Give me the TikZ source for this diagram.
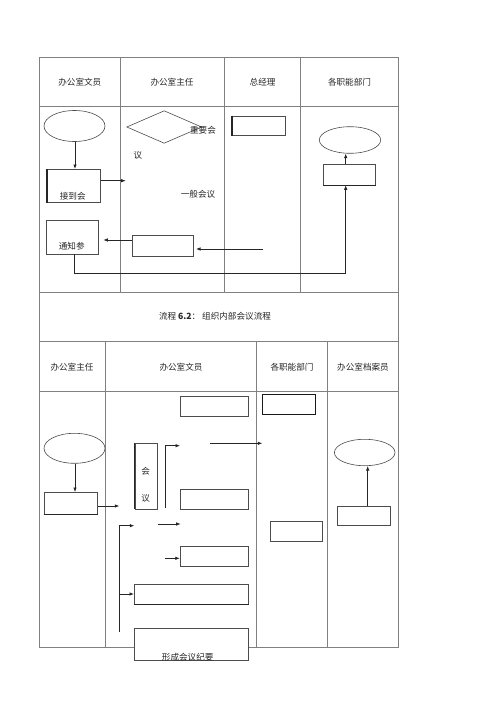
\documentclass[tikz,border=0pt]{standalone}
\usepackage{fontspec}
\newfontfamily\cjk{Noto Sans CJK SC}
\usetikzlibrary{arrows.meta,shapes.geometric}
\begin{document}
\begin{tikzpicture}[x=1pt,y=-1pt,
  grid/.style={draw=black!50,line width=0.5pt,dash pattern=on 0.5pt off 0.5pt},
  txt/.style={font=\cjk\fontsize{8.6}{10}\selectfont,text=black!85,inner sep=0pt},
  bx/.style={draw=black!70,line width=0.6pt,inner sep=0pt,rectangle},
  ell/.style={draw=black!70,line width=0.6pt,ellipse,inner sep=0pt},
  thk/.style={draw=black!85,line width=1.3pt},
  arr/.style={draw=black!85,line width=0.7pt,-{Latex[length=4.5pt,width=3.5pt]}},
  ln/.style={draw=black!85,line width=0.7pt}]
\useasboundingbox (0,0) rectangle (500,707);
% ---------- table 1 ----------
\draw[grid] (39.5,57) rectangle (398.3,292.7);
\draw[grid] (39.5,106) -- (398.3,106);
\draw[grid] (120,57) -- (120,292.7);
\draw[grid] (224.5,57) -- (224.5,292.7);
\draw[grid] (300.7,57) -- (300.7,292.7);
\node[txt] (h1) at (79.8,82) {办公室文员};
\node[txt] (h2) at (172,82) {办公室主任};
\node[txt] (h3) at (262.6,82) {总经理};
\node[txt] (h4) at (349.5,82) {各职能部门};
% caption row
\draw[grid] (39.5,292.7) rectangle (398.3,341.7);
\node[txt] (cap) at (215,316.7) {流程 \textbf{6.2}： 组织内部会议流程};
% ---------- table 2 ----------
\draw[grid] (39.5,341.7) rectangle (398.3,647.3);
\draw[grid] (39.5,391.7) -- (398.3,391.7);
\draw[grid] (105,341.7) -- (105,647.3);
\draw[grid] (256.7,341.7) -- (256.7,647.3);
\draw[grid] (327.7,341.7) -- (327.7,647.3);
\node[txt] (k1) at (72,367) {办公室主任};
\node[txt] (k2) at (181,367) {办公室文员};
\node[txt] (k3) at (292,367) {各职能部门};
\node[txt] (k4) at (363,367) {办公室档案员};
% ---------- section 1 shapes ----------
\node[ell,minimum width=61pt,minimum height=31pt] (E1) at (74.5,126) {};
\node[bx,minimum width=53.4pt,minimum height=33pt] (A1) at (74,185.8) {};
\draw[thk] (A1.north west) -- (A1.south west);
\node[txt] (A1t) at (72.7,196.7) {接到会};
\node[diamond,draw=black!70,line width=0.6pt,inner sep=0pt,aspect=2.3,minimum width=75pt,minimum height=32.6pt] (D1) at (164.2,127) {};
\node[txt] (D1a) at (203,130) {重要会};
\node[txt] (D1b) at (138,155.7) {议};
\node[txt] (D1c) at (198,194) {一般会议};
\node[bx,minimum width=52.3pt,minimum height=34pt] (N1) at (72.2,237) {};
\node[txt] (N1t) at (71.7,246.7) {通知参};
\node[bx,minimum width=60.6pt,minimum height=21pt] (M1) at (163,246.2) {};
\node[bx,minimum width=53.4pt,minimum height=19.7pt] (G1) at (259,125.8) {};
\draw[thk] (G1.north west) -- (G1.south west);
\node[ell,minimum width=61.4pt,minimum height=26.6pt] (E2) at (350,140) {};
\node[bx,minimum width=52.4pt,minimum height=20.7pt] (R1) at (349.5,174.6) {};
\draw[thk] (R1.south west) -- (R1.south east);
% connectors section 1
\coordinate (c1) at (125.7,180.7);
\coordinate (c2) at (262.7,249);
\coordinate (c3) at (345.7,273.3);
\draw[arr] (E1.south -| 75,0) -- (75,0 |- A1.north);
\draw[arr] (A1.east |- c1) -- (c1);
\draw[arr] (M1.west |- 0,240) -- (103.3,240);
\draw[arr] (c2) -- ([xshift=2.4pt]M1.east |- c2);
\draw[ln] (74.3,0 |- N1.south) |- (c3);
\draw[arr] (c3) -- (c3 |- R1.south);
\draw[arr] (c3 |- R1.north) -- (c3 |- E2.south);
% ---------- section 2 shapes ----------
\node[bx,minimum width=68.3pt,minimum height=20pt] (B1) at (214.2,406) {};
\node[ell,minimum width=61pt,minimum height=30pt] (E3) at (74.5,448.3) {};
\node[bx,minimum width=53.7pt,minimum height=21.7pt] (B2) at (70.8,503.2) {};
\draw[thk] (B2.south west) -- (B2.south east);
\node[bx,minimum width=22.7pt,minimum height=65.7pt] (V1) at (146.3,476.2) {};
\draw[thk] (V1.north west) -- (V1.south west);
\node[txt] (V1a) at (145.7,471.7) {会};
\node[txt] (V1b) at (145.7,498.3) {议};
\node[bx,minimum width=68.3pt,minimum height=19.7pt] (B3) at (214.2,499.2) {};
\node[bx,minimum width=68.3pt,minimum height=19.3pt] (B4) at (214.2,556.3) {};
\node[bx,minimum width=114pt,minimum height=20pt] (B5) at (191.3,594) {};
\draw[thk] (B5.south west) -- (B5.south east);
\node[bx,fill=white,minimum width=114pt,minimum height=32.4pt] (B6) at (191.3,644.5) {};
\node[txt] (B6t) at (187.7,657.5) {形成会议纪要};
\node[bx,draw=black!90,line width=0.9pt,minimum width=53pt,minimum height=20pt] (B7) at (289.2,404.3) {};
\node[ell,minimum width=60.6pt,minimum height=26.4pt] (E4) at (364.7,452.5) {};
\node[bx,minimum width=53pt,minimum height=19.7pt] (B8) at (364.2,515.8) {};
\node[bx,minimum width=52.7pt,minimum height=20pt] (B9) at (296.3,531.7) {};
% connectors section 2
\coordinate (d1) at (119.3,506);
\coordinate (d2) at (165,508.3);
\coordinate (d3) at (180,445.7);
\coordinate (d4) at (210,443.3);
\coordinate (d5) at (262.3,443.3);
\coordinate (d6) at (158.3,524);
\coordinate (d7) at (180.7,524);
\coordinate (d8) at (119.3,631.7);
\coordinate (d9) at (134.3,525.7);
\coordinate (d10) at (165,558.3);
\draw[arr] (75,0 |- E3.south) -- (75,0 |- B2.north);
\draw[arr] (B2.east |- d1) -- (d1);
\draw[arr] (d2) |- (d3);
\draw[arr] (d4) -- (d5);
\draw[arr] (d6) -- (d7);
\draw[arr] (d8) |- (d9);
\draw[arr] (d10) -- (B4.west |- d10);
\draw[arr] (d8 |- B5.west) -- (B5.west);
\draw[arr] (367.7,0 |- B8.north) -- (367.7,0 |- E4.south);
\end{tikzpicture}
\end{document}
